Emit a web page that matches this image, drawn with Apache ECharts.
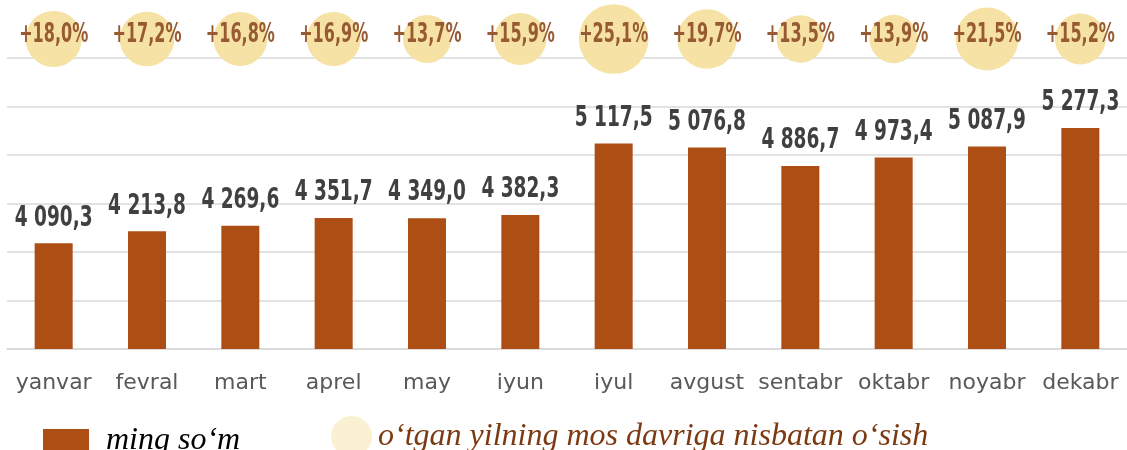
<!DOCTYPE html>
<html>
<head>
<meta charset="utf-8">
<script src="https://cdn.jsdelivr.net/npm/echarts@6/dist/echarts.min.js"></script>
<style>
    html, body { margin: 0; padding: 0; background: #fff; }
    #chart { width: 1127px; height: 450px; }
</style>
</head>
<body>
<div id="chart"></div>
<script>
// ============================
// Datos
// ============================
var oylar = ["yanvar", "fevral", "mart", "aprel", "may", "iyun", "iyul", "avgust", "sentabr", "oktabr", "noyabr", "dekabr"];
var ishHaqi = [4090.3, 4213.8, 4269.6, 4351.7, 4349.0, 4382.3, 5117.5, 5076.8, 4886.7, 4973.4, 5087.9, 5277.3];
var osish = [18.0, 17.2, 16.8, 16.9, 13.7, 15.9, 25.1, 19.7, 13.5, 13.9, 21.5, 15.2];

var barName = "ming soʻm";
var bubbleName = "oʻtgan yilning mos davriga nisbatan oʻsish";

// 4 090,3
function fmtNum(v) {
    var p = v.toFixed(1).split(".");
    return p[0].replace(/\B(?=(\d{3})+(?!\d))/g, " ") + "," + p[1];
}
function fmtPct(v) {
    return "+" + v.toFixed(1).replace(".", ",") + "%";
}

// fuente estrecha: DejaVu condensada y comprimida en x
var narrowFont = 'bold 28px "DejaVu Sans Condensed", sans-serif';
var pctFont = 'bold 27px "DejaVu Sans Condensed", sans-serif';
var legendFont = '"Liberation Serif", "DejaVu Serif", serif';

var chart = echarts.init(document.getElementById("chart"));
chart.setOption({
    animation: false,
    grid: [
        { left: 7, right: -4, top: 58, bottom: 101 },
        { left: 7, right: -4, top: 0, height: 78 }
    ],
    xAxis: [
        {
            type: "category",
            gridIndex: 0,
            data: oylar,
            axisTick: { show: false },
            axisLine: { lineStyle: { color: "#d9d9d9", width: 1.5 } },
            axisLabel: {
                color: "#595959",
                fontSize: 22,
                fontFamily: '"DejaVu Sans", Verdana, sans-serif',
                margin: 23,
                interval: 0
            }
        },
        { type: "category", gridIndex: 1, data: oylar, show: false }
    ],
    yAxis: [
        {
            type: "value",
            gridIndex: 0,
            min: 3000,
            max: 6000,
            interval: 500,
            axisLabel: { show: false },
            axisLine: { show: false },
            axisTick: { show: false },
            splitLine: { lineStyle: { color: "#d9d9d9", width: 1.5 } }
        },
        { type: "value", gridIndex: 1, min: -1, max: 1, show: false }
    ],
    legend: [
        {
            data: [barName],
            left: 38,
            top: 420,
            itemWidth: 46,
            itemHeight: 24,
            icon: "rect",
            textStyle: {
                color: "#000",
                fontStyle: "italic",
                fontSize: 32,
                fontFamily: legendFont,
                padding: [0, 0, 0, 12]
            }
        },
        {
            data: [{ name: bubbleName, itemStyle: { color: "#faf0d2" } }],
            left: 326,
            top: 411,
            itemWidth: 41,
            itemHeight: 41,
            icon: "circle",
            textStyle: {
                color: "#7b3a12",
                fontStyle: "italic",
                fontSize: 32,
                fontFamily: legendFont,
                padding: [0, 0, 0, 1]
            }
        }
    ],
    series: [
        {
            name: barName,
            type: "bar",
            xAxisIndex: 0,
            yAxisIndex: 0,
            barWidth: 38,
            itemStyle: { color: "#ad4f14" },
            data: ishHaqi
        },
        {
            // etiquetas de las barras
            type: "custom",
            xAxisIndex: 0,
            yAxisIndex: 0,
            silent: true,
            z: 5,
            renderItem: (params, api) => {
                var pt = api.coord([api.value(0), api.value(1)]);
                return {
                    type: "text",
                    x: pt[0],
                    y: pt[1] - 11,
                    scaleX: 0.735,
                    style: {
                        text: fmtNum(api.value(1)),
                        font: narrowFont,
                        fill: "#404040",
                        align: "center",
                        verticalAlign: "bottom"
                    }
                };
            },
            data: ishHaqi.map((v, i) => [i, v])
        },
        {
            name: bubbleName,
            type: "scatter",
            xAxisIndex: 1,
            yAxisIndex: 1,
            clip: false,
            z: 2,
            symbolSize: v => 21.8 + 1.91 * v[2],
            itemStyle: { color: "#f5e2a4", opacity: 1 },
            data: osish.map((g, i) => [oylar[i], 0, g])
        },
        {
            // etiquetas de las burbujas
            type: "custom",
            xAxisIndex: 1,
            yAxisIndex: 1,
            silent: true,
            z: 10,
            renderItem: (params, api) => {
                var pt = api.coord([api.value(0), api.value(1)]);
                return {
                    type: "text",
                    x: pt[0],
                    y: pt[1] - 4,
                    scaleX: 0.66,
                    style: {
                        text: fmtPct(api.value(2)),
                        font: pctFont,
                        fill: "#985a32",
                        align: "center",
                        verticalAlign: "middle"
                    }
                };
            },
            data: osish.map((g, i) => [i, 0, g])
        }
    ]
});
</script>
</body>
</html>
